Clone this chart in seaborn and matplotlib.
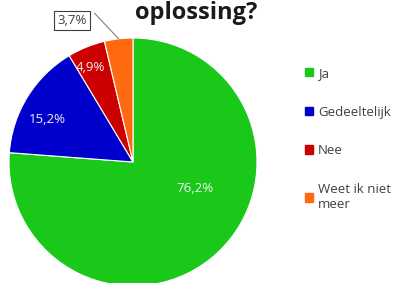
import numpy as np
import matplotlib.pyplot as plt
import matplotlib.patches as mpatches
import seaborn as sns

categories = ['Ja', 'Gedeeltelijk', 'Nee', 'Weet ik niet\nmeer']
values = [76.2, 15.2, 4.9, 3.7]
title = 'oplossing?'

colors = ['#19c819', '#0000cc', '#cc0000', '#ff6a10']
# label positions in pie units (x, y), Excel-like placement
label_xy = [(0.50, -0.21), (-0.69, 0.34), (-0.34, 0.76), (-0.49, 1.14)]

sns.set_style('white')
plt.rcParams['font.family'] = ['Open Sans', 'DejaVu Sans']

fig = plt.figure(figsize=(3.93, 2.83), dpi=100)
ax = fig.add_axes([9 / 393, -3 / 283, 248 / 393, 248 / 283])

wedges, _ = ax.pie(values, colors=sns.color_palette(colors), startangle=90,
                   counterclock=False, radius=1,
                   wedgeprops=dict(edgecolor='white', linewidth=0.8))
ax.set_xlim(-1, 1)
ax.set_ylim(-1, 1)
ax.set_aspect('equal')
ax.axis('off')

for i, v in enumerate(values):
    txt = f'{v:.1f}%'.replace('.', ',')
    x, y = label_xy[i]
    if i < 3:
        ax.text(x, y, txt, ha='center', va='center', color='#f2f2f2', fontsize=9.5)
    else:
        ax.text(x, y, txt, ha='center', va='center', color='#404040', fontsize=9.5,
                bbox=dict(boxstyle='square,pad=0.25', fc='white', ec='#404040', lw=0.8),
                clip_on=False)
        # leader line to the wedge
        w = wedges[i]
        mid = np.deg2rad((w.theta1 + w.theta2) / 2)
        ax.plot([x + 0.18, np.cos(mid)], [y + 0.06, np.sin(mid)], color='#808080',
                lw=0.8, clip_on=False)

fig.text(196 / 393, 1 - 13 / 283, title, ha='center', va='center',
         fontsize=17, fontweight='bold', color='#1a1a1a')

handles = [mpatches.Patch(color=c, label=l) for c, l in zip(colors, categories)]
fig.legend(handles=handles, loc='upper left', bbox_to_anchor=(293 / 393, 1 - 55 / 283),
           frameon=False, fontsize=9.5, handlelength=0.6, handleheight=0.6,
           handletextpad=0.4, labelspacing=1.95, labelcolor='#404040')

fig.savefig('out.png', dpi=100)
